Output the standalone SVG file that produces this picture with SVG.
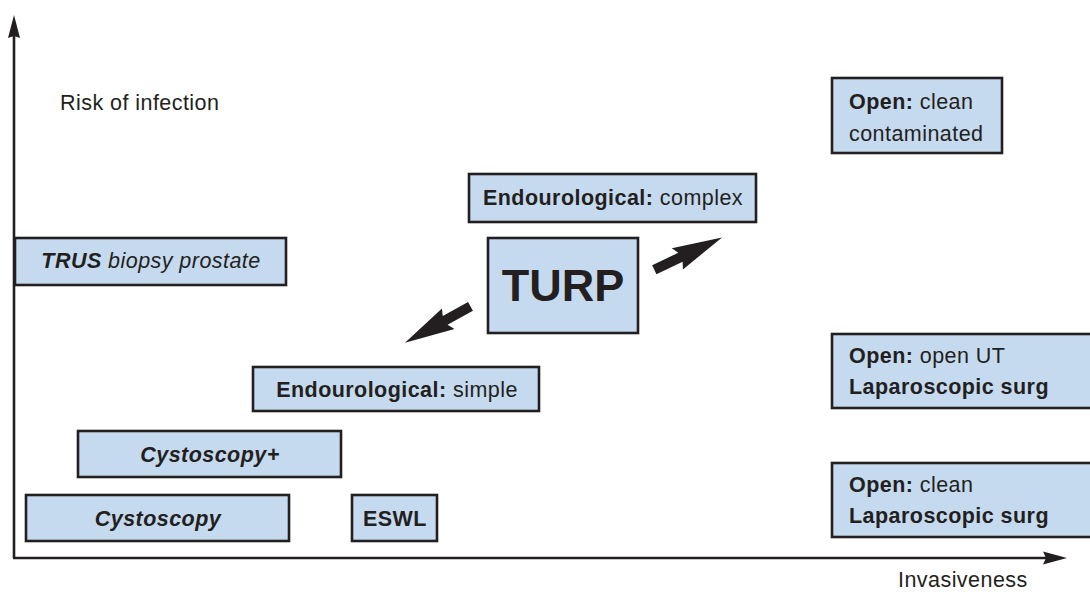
<svg xmlns="http://www.w3.org/2000/svg" width="1090" height="592" viewBox="0 0 1090 592">
<style>
.box{fill:#c6daef;stroke:#231f20;stroke-width:2.6}
.t{font-family:"Liberation Sans",Arial,sans-serif;font-size:21.5px;fill:#231f20;letter-spacing:0.45px}
.c{text-anchor:middle}
.b{font-weight:bold}
.i{font-style:italic}
.ax{stroke:#231f20;stroke-width:2.6;fill:none}
.ah{fill:#231f20}
</style>
<rect width="1090" height="592" fill="#ffffff"/>
<g id="axes">
<line class="ax" x1="14" y1="558" x2="14" y2="32"/>
<polygon class="ah" points="14,15 20,38 14,36 8,38"/>
<line class="ax" x1="13" y1="558" x2="1050" y2="558"/>
<polygon class="ah" points="1067,558 1043,564.5 1046,558 1043,551.5"/>
<text class="t" x="60" y="110">Risk of infection</text>
<text class="t" x="898" y="587">Invasiveness</text>
</g>
<g id="open-clean-contaminated">
<rect class="box" x="832" y="78" width="170" height="75"/>
<text class="t" x="849" y="109"><tspan class="b">Open:</tspan> clean</text>
<text class="t" x="849" y="141">contaminated</text>
</g>
<g id="endo-complex">
<rect class="box" x="469" y="174" width="287" height="48"/>
<text class="t c" x="613" y="205"><tspan class="b">Endourological:</tspan> complex</text>
</g>
<g id="trus">
<rect class="box" x="15" y="238" width="271" height="47"/>
<text class="t c i" x="151" y="268"><tspan class="b">TRUS</tspan> biopsy prostate</text>
</g>
<g id="turp">
<rect class="box" x="488" y="238" width="150" height="95"/>
<text class="c" x="563" y="301" style="font-family:'Liberation Sans',Arial,sans-serif;font-weight:bold;font-size:45px;fill:#231f20">TURP</text>
</g>
<g id="endo-simple">
<rect class="box" x="253" y="367" width="286" height="44"/>
<text class="t c" x="397" y="397"><tspan class="b">Endourological:</tspan> simple</text>
</g>
<g id="cystoscopy-plus">
<rect class="box" x="78" y="431" width="263" height="46"/>
<text class="t c b i" x="210" y="462">Cystoscopy+</text>
</g>
<g id="cystoscopy">
<rect class="box" x="26" y="495" width="263" height="46"/>
<text class="t c b i" x="158" y="526">Cystoscopy</text>
</g>
<g id="eswl">
<rect class="box" x="352" y="495" width="85" height="46"/>
<text class="t c b" x="395" y="526">ESWL</text>
</g>
<g id="open-ut">
<rect class="box" x="832" y="334" width="270" height="74"/>
<text class="t" x="849" y="363"><tspan class="b">Open:</tspan> open UT</text>
<text class="t b" x="849" y="394">Laparoscopic surg</text>
</g>
<g id="open-clean">
<rect class="box" x="832" y="463" width="270" height="74"/>
<text class="t" x="849" y="492"><tspan class="b">Open:</tspan> clean</text>
<text class="t b" x="849" y="523">Laparoscopic surg</text>
</g>
<g id="connectors">
<path class="ah" transform="translate(654.3,269.7) rotate(-25.4)" d="M0,-5 L29,-5 L25,-12 L75,0 L26,12 L29,5 L0,5 Z"/>
<path class="ah" transform="translate(470.5,306.3) rotate(150.9)" d="M0,-5 L29,-5 L25,-12 L75,0 L26,12 L29,5 L0,5 Z"/>
</g>
</svg>
